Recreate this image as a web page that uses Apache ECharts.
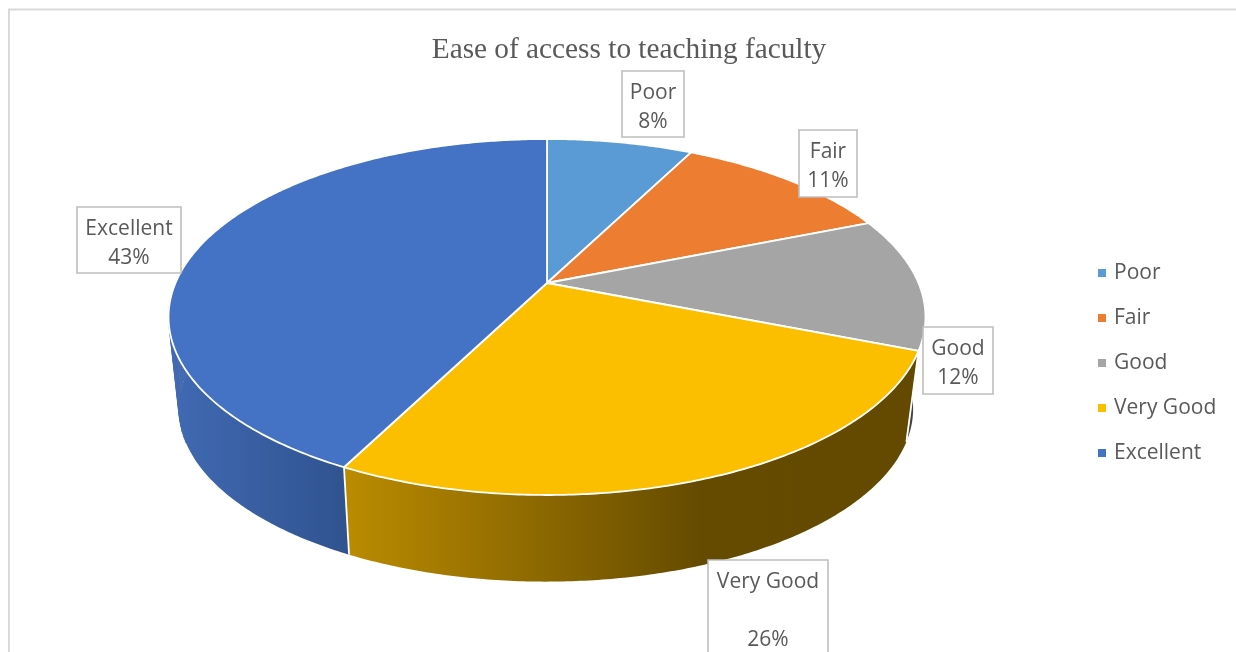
<!DOCTYPE html>
<html>
<head>
<meta charset="utf-8">
<style>html,body{margin:0;padding:0;background:#fff}#c{width:1236px;height:652px}</style>
<script src="https://cdn.jsdelivr.net/npm/echarts@6/dist/echarts.min.js"></script>
</head>
<body>
<div id="c"></div>
<script>
const titleText = 'Ease of access to teaching faculty';
const categories = ['Poor', 'Fair', 'Good', 'Very Good', 'Excellent'];
const shares = [7.5, 11.4, 12.1, 26.49, 42.51];

// Styling and layout (kept apart from the data)
const topColors = ['#5b9bd5', '#ed7d31', '#a5a5a5', '#fbbf00', '#4472c4'];
const wallStops = [
  [[0, '#3c6a9a'], [1, '#3c6a9a']],
  [[0, '#a05520'], [1, '#a05520']],
  [[0, '#444444'], [1, '#444444']],
  [[0, '#ba8b00'], [0.62, '#654b00'], [1, '#634a00']],
  [[0, '#4069b2'], [1, '#30538f']]
];
const wallGradientX = [[547, 925], [547, 925], [547, 925], [349, 917], [177, 349]];
const labelBoxes = [
  {x: 622, y: 71, w: 62, h: 66, lines: 2},
  {x: 799, y: 130, w: 58, h: 67, lines: 2},
  {x: 923, y: 327, w: 70, h: 67, lines: 2},
  {x: 708, y: 560, w: 120, h: 140, lines: 3},
  {x: 77, y: 207, w: 104, h: 66, lines: 2}
];
const disc = {ax: 547, ay: 283, A: 371.5, B: 171.5, p: 0.191};
const floor = {ax: 546, ay: 376, scale: 0.97};
const sans = '"Open Sans", "Noto Sans", sans-serif';

const total = shares.reduce((a, b) => a + b, 0);
function project(theta, ax, ay, scale) {
  const X = Math.sin(theta), Y = Math.cos(theta), d = 1 + disc.p * Y;
  return [ax + scale * disc.A * X / d, ay - scale * disc.B * Y / d];
}
function arc(a0, a1, ax, ay, scale) {
  const n = Math.max(2, Math.ceil(Math.abs(a1 - a0) / 0.01)), pts = [];
  for (let i = 0; i <= n; i++) pts.push(project(a0 + (a1 - a0) * i / n, ax, ay, scale));
  return pts;
}
function sliceRender(index) {
  return function (params, api) {
    const v = api.value(0);
    let before = 0;
    for (let i = 0; i < index; i++) before += shares[i];
    const a0 = before / total * 2 * Math.PI, a1 = (before + v) / total * 2 * Math.PI;
    const color = api.visual('color');
    const topArc = arc(a0, a1, disc.ax, disc.ay, 1);
    const botArc = arc(a0, a1, floor.ax, floor.ay, floor.scale);
    const gx = wallGradientX[index];
    const wallFill = new echarts.graphic.LinearGradient(gx[0], 0, gx[1], 0,
      wallStops[index].map(s => ({offset: s[0], color: s[1]})), true);
    const children = [
      {type: 'polygon', z2: 1, shape: {points: topArc.concat(botArc.slice().reverse())},
       style: {fill: wallFill, stroke: null}},
      {type: 'polygon', z2: 10, shape: {points: [[disc.ax, disc.ay]].concat(topArc)},
       style: {fill: color, stroke: '#ffffff', lineWidth: 1.8, lineJoin: 'round'}}
    ];
    // sweep the wall on the left so its outline joins the top and floor discs
    for (let k = 0; k + 3 < topArc.length; k += 3) {
      const th = a0 + (a1 - a0) * k / (topArc.length - 1);
      if (Math.sin(th) < 0 && Math.cos(th) > -0.4 && Math.cos(th) < 0.5) {
        children.push({type: 'polygon', z2: 1,
          shape: {points: [topArc[k], topArc[k + 3], botArc[k + 3], botArc[k]]},
          style: {fill: wallFill, stroke: wallFill, lineWidth: 0.6}});
      }
    }
    // white seam on the side wall where the slice ends
    children.push({type: 'line', z2: 2,
      shape: {x1: topArc[0][0], y1: topArc[0][1], x2: botArc[0][0], y2: botArc[0][1]},
      style: {stroke: '#ffffff', lineWidth: 1.8}});
    const b = labelBoxes[index];
    children.push({type: 'rect', z2: 20, shape: {x: b.x, y: b.y, width: b.w, height: b.h},
      style: {fill: '#ffffff', stroke: '#bfbfbf', lineWidth: 1.6}});
    const pct = Math.round(v) + '%';
    const text = b.lines === 3 ? categories[index] + '\n\n' + pct : categories[index] + '\n' + pct;
    children.push({type: 'text', z2: 21,
      x: b.x + b.w / 2, y: b.y + 7.5,
      style: {text: text, fill: '#595959', font: '21px ' + sans, lineHeight: 29,
              align: 'center', verticalAlign: 'top'}});
    return {type: 'group', children: children};
  };
}

const chart = echarts.init(document.getElementById('c'));
chart.setOption({
  animation: false,
  backgroundColor: '#ffffff',
  title: {
    text: titleText, left: 624, top: 31, textAlign: 'center',
    textStyle: {fontFamily: '"Liberation Serif", serif', fontSize: 29.3, fontWeight: 'normal', color: '#595959'}
  },
  legend: {
    orient: 'vertical', left: 1093, top: 256, icon: 'rect', itemWidth: 8, itemHeight: 8,
    itemGap: 21, data: categories,
    textStyle: {fontFamily: sans, fontSize: 21, color: '#595959', padding: [0, 0, 0, 3], lineHeight: 24}
  },
  graphic: [{
    type: 'rect', silent: true, z: -1,
    shape: {x: 9, y: 9.5, width: 1400, height: 800},
    style: {fill: null, stroke: '#d9d9d9', lineWidth: 2}
  }],
  series: categories.map((name, i) => ({
    type: 'custom', name: name, coordinateSystem: 'none', silent: true,
    itemStyle: {color: topColors[i]},
    data: [[shares[i]]],
    renderItem: sliceRender(i)
  }))
});
</script>
</body>
</html>
